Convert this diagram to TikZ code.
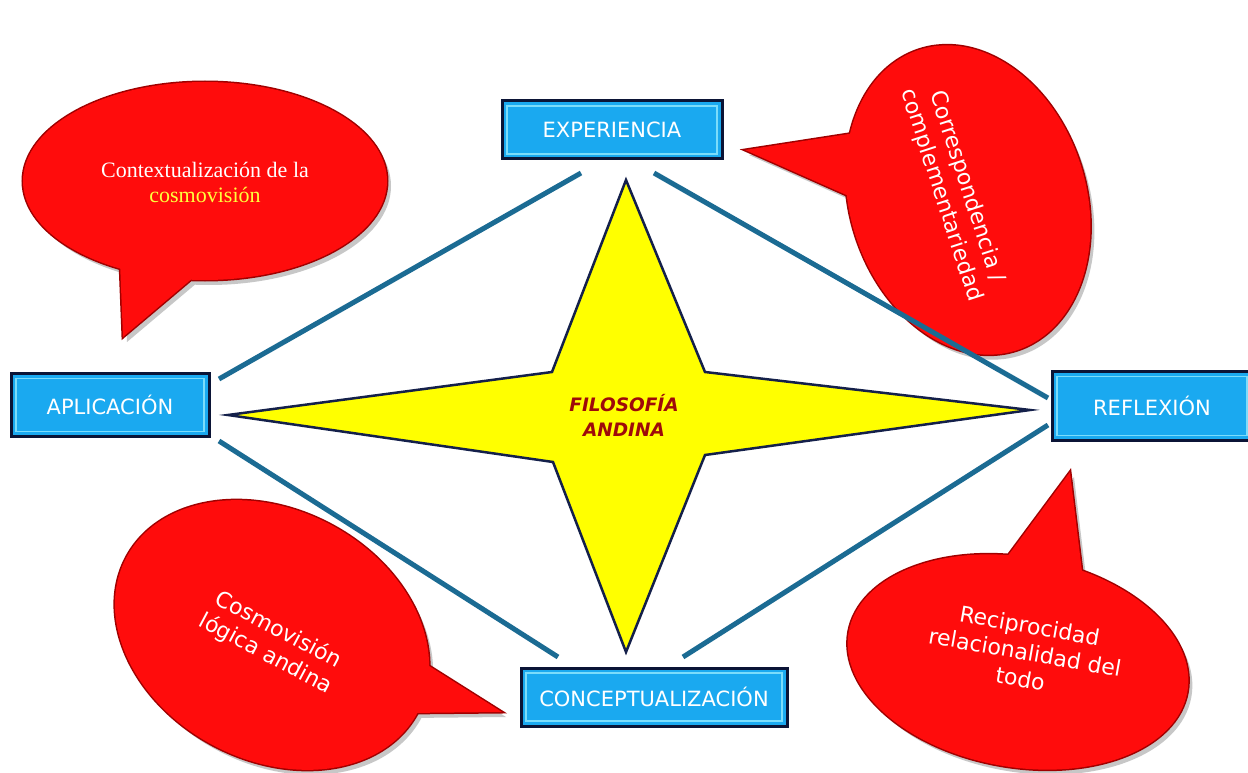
\documentclass[tikz,border=0pt]{standalone}
\usepackage{fontspec}
\setmainfont{Liberation Serif}
\setsansfont{DejaVu Sans}
\usetikzlibrary{calc}
\definecolor{bubred}{HTML}{FF0C0C}
\definecolor{bubedgec}{HTML}{A00000}
\definecolor{boxcyan}{HTML}{1AA9F0}
\definecolor{boxnavy}{HTML}{0B1436}
\definecolor{bevel}{HTML}{7BDCFB}
\definecolor{linkblue}{HTML}{1B6B93}
\definecolor{staryel}{HTML}{FFFF00}
\definecolor{starline}{HTML}{14204A}
\definecolor{filred}{HTML}{9E0A0A}
\definecolor{cosyel}{HTML}{FFFF3C}
\tikzset{
  bubshadow/.style={fill=black!22, shift={(4,5)}},
  bubedge/.style={draw=bubedgec, line width=3pt, fill=bubred},
  bubbody/.style={fill=bubred},
  boxnode/.style={rectangle, draw=boxnavy, line width=3pt, fill=boxcyan,
    text=white, font=\sffamily\fontsize{21}{25}\selectfont, inner sep=0pt,
    path picture={\draw[bevel, line width=1.2pt]
      ([shift={(5pt,-5pt)}]path picture bounding box.north west) rectangle
      ([shift={(-5pt,5pt)}]path picture bounding box.south east);}},
  link/.style={draw=linkblue, line width=5pt},
  btext/.style={text=white, align=center, font=\sffamily\fontsize{22}{27}\selectfont, inner sep=0pt},
}
\begin{document}
\begin{tikzpicture}[x=1pt,y=-1pt]
\useasboundingbox[fill=white] (0,0) rectangle (1248,773);

% speech bubbles
\foreach \lay in {shadow,edge,body}{
  \path[bub\lay] (205,181) ellipse (182 and 99);
  \path[bub\lay] (120,262) -- (123,337) -- (200,272) -- cycle;
  \path[bub\lay, rotate around={-72:(968,200)}] (968,200) ellipse (158 and 118);
  \path[bub\lay] (855,133) -- (745,150) -- (860,201) -- cycle;
  \path[bub\lay, rotate around={-28:(272,635)}] (272,635) ellipse (165 and 125);
  \path[bub\lay] (418,659) -- (502,712) -- (405,713) -- cycle;
  \path[bub\lay, rotate around={-10:(1018,662)}] (1018,662) ellipse (172 and 105);
  \path[bub\lay] (1001,565) -- (1070,472) -- (1083,580) -- cycle;
}

\node[text=white, align=center, font=\rmfamily\fontsize{22}{25}\selectfont, inner sep=0pt]
  (t1) at (205,182) {Contextualización de la\\\textcolor{cosyel}{cosmovisión}};
\node[btext, rotate=-72] (t2) at (954,191) {Correspondencia /\\complementariedad};
\node[btext, rotate=-28] (t3) at (272,642) {Cosmovisión\\lógica andina};
\node[btext, rotate=-10] (t4) at (1025,652) {Reciprocidad\\relacionalidad del\\todo};

% boxes
\node[boxnode, minimum width=220pt, minimum height=58pt] (exp) at (612,130) {EXPERIENCIA};
\node[boxnode, minimum width=198pt, minimum height=63pt] (apl) at (110,405) {APLICACIÓN};
\node[boxnode, minimum width=200pt, minimum height=69pt] (ref) at (1152,406) {REFLEXIÓN};
\node[boxnode, minimum width=266pt, minimum height=58pt] (con) at (654,697) {CONCEPTUALIZACIÓN};

% connector ends
\coordinate (e1) at (581,173); \coordinate (a1) at (219,379);
\coordinate (e2) at (654,173); \coordinate (r1) at (1048,398);
\coordinate (a2) at (219,441); \coordinate (c1) at (558,657);
\coordinate (r2) at (1048,425); \coordinate (c2) at (683,657);
\draw[link] (e1) -- (a1);
\draw[link] (e2) -- (r1);
\draw[link] (a2) -- (c1);
\draw[link] (r2) -- (c2);

% star
\draw[fill=staryel, draw=starline, line width=2.5pt, line join=miter]
  (626,180) -- (552,372) -- (228,415) -- (553,462) -- (626,652)
  -- (705,455) -- (1030,410) -- (705,372) -- cycle;
\node[text=filred, align=center, inner sep=0pt,
  font=\sffamily\bfseries\itshape\fontsize{18.5}{25}\selectfont] (fa) at (624,415) {FILOSOFÍA\\ANDINA};
\end{tikzpicture}
\end{document}
